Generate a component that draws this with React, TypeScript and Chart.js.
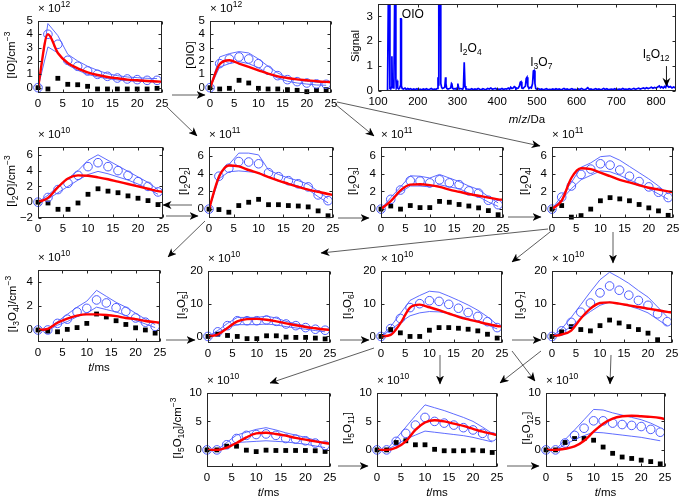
import React, { useEffect, useRef } from "react";
import { Chart, registerables } from "chart.js";
Chart.register(...registerables);

const FONT = '"Liberation Sans", Arial, Helvetica, sans-serif';
const FS = 11.5;
const BAND = "#4d5bff";
const RED = "#ff0000";
const SPEC = "#0000ff";

// ---------- data ----------
const tObs = [0, 2, 4, 6, 8, 10, 12, 14, 16, 18, 20, 22, 24];
const tMod = [0, 2, 4, 6, 8, 10, 12, 14, 16, 18, 20, 22, 24, 25];
const xTicks = [0, 5, 10, 15, 20, 25];

// IO (x1e12)
const io_obs = [0, 4.0, 3.25, 2.05, 1.6, 1.25, 1.0, 0.85, 0.72, 0.65, 0.6, 0.55, 0.55];
const io_hi = [0, 4.8, 3.9, 2.5, 2.0, 1.6, 1.3, 1.05, 0.9, 0.8, 0.75, 0.7, 0.68];
const io_lo = [0, 3.05, 2.6, 1.7, 1.3, 1.0, 0.8, 0.68, 0.58, 0.52, 0.48, 0.45, 0.43];
const io_mod = [0, 4.0, 2.6, 1.85, 1.45, 1.15, 0.95, 0.8, 0.7, 0.6, 0.55, 0.5, 0.46, 0.45];
const io_sq = [0, -0.1, 0.7, 0.25, 0.22, 0.1, -0.1, -0.1, -0.1, -0.1, -0.1, -0.1, -0.05];

// OIO (x1e12)
const oio_obs = [0, 1.8, 2.15, 2.3, 2.15, 1.8, 1.3, 0.9, 0.6, 0.45, 0.35, 0.28, 0.25];
const oio_hi = [0, 2.3, 2.55, 2.7, 2.6, 2.15, 1.6, 1.1, 0.75, 0.6, 0.48, 0.4, 0.36];
const oio_lo = [0, 1.55, 1.8, 1.95, 1.8, 1.5, 1.05, 0.72, 0.48, 0.35, 0.27, 0.2, 0.18];
const oio_mod = [0, 1.75, 2.05, 1.8, 1.55, 1.3, 1.05, 0.85, 0.72, 0.62, 0.55, 0.48, 0.43, 0.42];
const oio_sq = [0, -0.1, -0.05, 0.55, 0.35, -0.05, -0.1, -0.1, -0.15, -0.2, -0.3, -0.2, -0.15];

// I2O (x1e10)
const i2o_obs = [0, 0.6, 1.6, 2.4, 3.4, 4.5, 5.0, 4.5, 4.0, 3.4, 2.6, 2.0, 1.3];
const i2o_hi = [0, 0.9, 2.0, 3.0, 4.0, 5.3, 6.0, 5.3, 4.6, 3.9, 3.2, 2.5, 1.6];
const i2o_lo = [0, 0.4, 1.2, 2.0, 2.8, 3.5, 3.9, 3.6, 3.2, 2.8, 2.3, 1.7, 1.0];
const i2o_mod = [0, 0.55, 1.9, 3.0, 3.4, 3.35, 3.15, 2.9, 2.6, 2.3, 2.0, 1.7, 1.4, 1.3];
const i2o_sq = [0, -0.1, -0.9, -0.9, -0.1, 1.0, 1.7, 1.4, 1.2, 0.8, 0.5, 0.2, -0.3];

// I2O2 (x1e11)
const i2o2_obs = [0, 3.7, 4.6, 5.35, 5.3, 5.1, 4.1, 3.65, 3.2, 2.85, 2.5, 1.6, 0.95];
const i2o2_hi = [0, 3.9, 5.0, 6.3, 6.3, 6.1, 4.4, 3.9, 3.5, 3.2, 2.8, 2.0, 1.2];
const i2o2_lo = [0, 3.4, 4.2, 4.3, 4.2, 4.1, 3.6, 3.2, 2.9, 2.6, 2.2, 1.4, 0.7];
const i2o2_mod = [0, 3.6, 4.9, 4.8, 4.4, 4.05, 3.6, 3.2, 2.85, 2.5, 2.2, 1.95, 1.7, 1.6];
const i2o2_sq = [0, -0.05, -0.35, 0.4, 0.77, 1.1, 0.5, 0.5, 0.4, 0.35, 0.25, -0.2, -0.75];

// I2O3 (x1e11)
const i2o3_obs = [0, 1.1, 2.15, 3.2, 3.15, 2.95, 3.3, 2.95, 2.75, 2.05, 1.8, 1.0, 0.5];
const i2o3_hi = [0, 1.3, 2.5, 3.75, 3.7, 3.5, 3.9, 3.5, 3.1, 2.6, 2.2, 1.4, 0.7];
const i2o3_lo = [0, 0.9, 1.9, 2.6, 2.6, 2.5, 2.75, 2.5, 2.3, 1.8, 1.4, 0.8, 0.3];
const i2o3_mod = [0, 0.9, 2.1, 2.75, 2.8, 2.7, 2.5, 2.2, 1.95, 1.7, 1.5, 1.3, 1.1, 1.05];
const i2o3_sq = [0, 0.35, 0, 0.4, 0.17, 0.17, 0.87, 0.77, 0.52, 0.35, 0.14, -0.17, -0.63];

// I2O4 (x1e11)
const i2o4_obs = [0, 1.35, 2.6, 3.9, 4.5, 5.1, 4.95, 4.4, 3.7, 3.1, 2.5, 1.9, 1.3];
const i2o4_hi = [0, 1.5, 3.0, 4.7, 5.2, 5.9, 6.0, 5.5, 4.8, 4.1, 3.4, 2.6, 1.7];
const i2o4_lo = [0, 1.1, 2.3, 3.3, 3.8, 4.3, 4.2, 3.8, 3.3, 2.8, 2.3, 1.7, 1.1];
const i2o4_mod = [0, 0.95, 3.5, 4.6, 4.5, 4.1, 3.7, 3.3, 3.0, 2.7, 2.4, 2.2, 2.0, 1.9];
const i2o4_sq = [0, 0.4, -0.9, -0.73, 0, 0.94, 1.29, 1.15, 0.94, 0.52, 0.14, -0.2, -0.7];

// I3O4 (x1e10)
const i3o4_obs = [0, 0, 0.55, 0.9, 1.5, 1.8, 2.5, 2.25, 1.85, 1.55, 1.0, 0.65, 0.3];
const i3o4_hi = [0, 0.1, 0.7, 1.3, 1.9, 2.4, 3.3, 2.8, 2.3, 1.9, 1.4, 0.9, 0.45];
const i3o4_lo = [0, -0.05, 0.4, 0.7, 1.1, 1.4, 1.9, 1.7, 1.5, 1.2, 0.8, 0.5, 0.2];
const i3o4_mod = [0, 0.1, 0.6, 0.95, 1.2, 1.3, 1.3, 1.25, 1.15, 1.0, 0.9, 0.75, 0.65, 0.6];
const i3o4_sq = [0, -0.1, -0.15, 0.05, 0.2, 0.55, 1.33, 1.08, 0.77, 0.46, 0.18, 0, -0.26];

// I3O5 (x1e10)
const i3o5_obs = [0, 1.4, 3.3, 4.8, 4.8, 4.8, 5.0, 4.6, 3.8, 3.3, 2.7, 2.2, 1.9];
const i3o5_hi = [0, 1.8, 4.0, 5.8, 5.8, 5.8, 6.2, 5.6, 4.6, 3.9, 3.2, 2.6, 2.0];
const i3o5_lo = [0, 1.2, 2.7, 3.6, 3.6, 3.6, 3.8, 3.5, 3.0, 2.6, 2.2, 1.8, 1.4];
const i3o5_mod = [0, 0.6, 2.6, 4.6, 5.3, 5.35, 5.1, 4.6, 4.0, 3.4, 2.9, 2.5, 2.1, 2.0];
const i3o5_sq = [0, 0.67, 0.3, 0, -0.67, -0.67, 0.2, 0.2, -0.2, -0.3, -0.3, -0.5, -0.76];

// I3O6 (x1e10)
const i3o6_obs = [0, 2.4, 5.5, 8.8, 10.0, 10.9, 10.7, 9.8, 8.6, 7.3, 6.1, 4.5, 2.7];
const i3o6_hi = [0, 3.0, 7.0, 11.0, 12.5, 13.8, 13.5, 12.3, 11.0, 9.6, 8.0, 6.0, 3.6];
const i3o6_lo = [0, 2.0, 4.3, 6.3, 7.2, 7.6, 7.5, 7.0, 6.3, 5.4, 4.5, 3.5, 2.3];
const i3o6_mod = [0, 0.5, 4.0, 8.8, 9.7, 8.9, 8.0, 7.0, 6.0, 5.2, 4.5, 3.8, 3.2, 3.0];
const i3o6_sq = [0, 2.1, 1.1, 0, 0, 1.9, 2.7, 2.7, 2.5, 2.2, 1.7, 0.67, -0.5];

// I3O7 (x1e10)
const i3o7_obs = [0, 1.7, 4.3, 7.4, 10.2, 13.3, 15.4, 14.1, 12.6, 11.0, 9.5, 6.9, 4.5];
const i3o7_hi = [0, 2.3, 5.8, 9.7, 13.6, 17.3, 19.6, 18.0, 16.2, 14.0, 12.0, 9.0, 6.0];
const i3o7_lo = [0, 1.2, 3.0, 5.5, 7.6, 9.5, 10.5, 10.0, 9.3, 8.4, 7.2, 5.2, 3.3];
const i3o7_mod = [0, 0.6, 1.8, 5.5, 8.5, 10.2, 10.4, 10.0, 9.5, 9.0, 8.5, 8.0, 7.5, 7.3];
const i3o7_sq = [0, 1.4, 3.0, 2.1, 1.7, 3.3, 5.0, 4.1, 3.0, 2.1, 1.0, -1.0, null];

// I5O10 (x1e10)
const i5o10_obs = [0, 0, 0.9, 2.0, 2.55, 2.7, 2.8, 2.55, 2.0, 1.9, 1.6, 1.2, 0.8];
const i5o10_hi = [0, 0, 1.3, 2.6, 3.1, 3.6, 3.9, 3.5, 3.0, 2.6, 2.2, 1.7, 1.2];
const i5o10_lo = [0, 0, 0.6, 1.3, 1.4, 1.5, 1.6, 1.5, 1.4, 1.2, 1.0, 0.7, 0.4];
const i5o10_mod = [0, 0, 0.4, 1.2, 2.2, 2.9, 3.0, 2.8, 2.5, 2.1, 1.8, 1.5, 1.2, 1.1];
const i5o10_sq = [0, 0, 0.65, 0.65, -0.05, -0.3, -0.05, -0.1, -0.1, -0.1, -0.1, -0.15, -0.27];

// I5O11 (x1e10)
const i5o11_obs = [0, 0, 1.5, 2.9, 4.35, 5.7, 5.0, 4.7, 4.35, 3.9, 3.5, 2.9, 2.3];
const i5o11_hi = [0, 0, 2.0, 4.0, 6.0, 7.9, 7.4, 6.9, 6.3, 5.7, 5.0, 4.0, 2.9];
const i5o11_lo = [0, 0, 0.9, 1.9, 2.6, 3.3, 3.1, 2.9, 2.7, 2.5, 2.2, 1.8, 1.4];
const i5o11_mod = [0, 0, 0.4, 1.5, 3.5, 4.8, 5.2, 5.0, 4.6, 4.2, 3.7, 3.2, 2.8, 2.6];
const i5o11_sq = [0, 0, 1.3, 1.6, 0.9, 0.9, 0.1, -0.15, -0.15, -0.15, -0.05, -0.15, -0.45];

// I5O12 (x1e10)
const i5o12_obs = [0, 0, 1.2, 2.55, 3.8, 5.1, 5.1, 4.7, 4.45, 4.3, 4.1, 3.6, 3.1];
const i5o12_hi = [0, 0, 1.8, 3.5, 5.3, 7.1, 7.0, 6.5, 6.1, 5.7, 5.3, 4.7, 3.9];
const i5o12_lo = [0, 0, 0.9, 1.8, 2.5, 3.1, 3.0, 2.8, 2.6, 2.4, 2.2, 1.9, 1.6];
const i5o12_mod = [0, 0, 0.2, 0.6, 1.6, 3.2, 4.6, 5.5, 5.9, 6.0, 5.9, 5.8, 5.6, 5.4];
const i5o12_sq = [0, 0, 1.3, 2.0, 2.0, 1.7, 0.5, -0.6, -1.25, -1.5, -1.8, -2.05, -2.45];

// Mass spectrum
const specMz = [
  100, 110, 118, 122, 124, 126, 128, 130, 132, 134, 135, 136, 138, 140, 142, 144, 145, 146, 148, 149,
  150, 152, 154, 156, 157, 158, 159, 161, 164, 168, 171, 175, 178, 182, 186, 190, 194, 198, 202, 206,
  210, 214, 218, 222, 226, 230, 234, 238, 242, 246, 249, 251, 252, 253, 257, 258, 260, 262, 265, 268,
  270, 271, 273, 276, 280, 283, 285, 286, 288, 291, 294, 297, 300, 301, 302, 304, 307, 310, 313, 315,
  317, 318, 319, 321, 324, 328, 332, 336, 340, 344, 348, 352, 356, 360, 364, 368, 372, 376, 380, 384,
  388, 392, 396, 400, 404, 408, 412, 416, 420, 424, 428, 431, 434, 437, 440, 443, 445, 447, 450, 453,
  456, 458, 460, 462, 465, 468, 471, 473, 475, 477, 480, 483, 486, 489, 491, 493, 495, 497, 500, 504,
  508, 512, 516, 520, 524, 528, 532, 536, 540, 544, 548, 552, 556, 560, 564, 568, 572, 576, 580, 584,
  588, 592, 596, 600, 604, 608, 612, 616, 620, 624, 628, 632, 636, 640, 644, 648, 652, 656, 660, 664,
  668, 672, 676, 680, 684, 688, 692, 696, 700, 704, 708, 712, 716, 720, 724, 728, 732, 736, 740, 744,
  748, 752, 756, 760, 764, 768, 772, 776, 780, 784, 788, 792, 796, 800, 804, 808, 811, 814, 818, 821,
  824, 827, 829, 832, 836, 840, 844, 848, 850,
];
const specSignal = [
  0, 0, 0, 0, 0.02, 3.8, 3.8, 0.1, 0.08, 0.15, 1.4, 0.2, 0.12, 0.2, 3.8, 3.8, 0.5, 0.15, 0.3, 0.42,
  0.12, 0.08, 0.1, 0.2, 2.9, 2.9, 0.2, 0.1, 0.08, 0.12, 0.06, 0.1, 0.07, 0.09, 0.05, 0.08, 0.06, 0.09, 0.05, 0.07,
  0.05, 0.08, 0.06, 0.09, 0.05, 0.07, 0.1, 0.06, 0.08, 0.07, 0.1, 0.55, 0.25, 3.8, 3.8, 0.3, 0.15, 0.1, 0.12, 0.15,
  0.55, 0.3, 0.1, 0.08, 0.1, 0.12, 0.3, 0.28, 0.1, 0.08, 0.1, 0.07, 0.15, 0.3, 0.2, 0.08, 0.1, 0.09, 0.07, 0.15,
  1.15, 1.15, 0.2, 0.1, 0.08, 0.07, 0.06, 0.09, 0.05, 0.08, 0.06, 0.1, 0.07, 0.05, 0.09, 0.07, 0.06, 0.1, 0.08, 0.12,
  0.07, 0.09, 0.1, 0.06, 0.08, 0.07, 0.1, 0.06, 0.09, 0.08, 0.12, 0.07, 0.15, 0.1, 0.12, 0.18, 0.16, 0.08, 0.1, 0.12,
  0.2, 0.35, 0.37, 0.12, 0.1, 0.15, 0.2, 0.5, 0.55, 0.2, 0.1, 0.15, 0.12, 0.3, 0.8, 0.82, 0.3, 0.1, 0.07, 0.09,
  0.06, 0.08, 0.05, 0.07, 0.09, 0.05, 0.07, 0.06, 0.08, 0.05, 0.09, 0.06, 0.08, 0.05, 0.07, 0.1, 0.06, 0.08, 0.05, 0.07,
  0.09, 0.06, 0.07, 0.05, 0.08, 0.06, 0.1, 0.07, 0.05, 0.08, 0.13, 0.06, 0.08, 0.05, 0.07, 0.09, 0.06, 0.08, 0.05, 0.07,
  0.1, 0.06, 0.09, 0.05, 0.07, 0.08, 0.06, 0.09, 0.05, 0.07, 0.08, 0.06, 0.1, 0.07, 0.08, 0.06, 0.09, 0.07, 0.08, 0.1,
  0.07, 0.09, 0.11, 0.08, 0.1, 0.12, 0.09, 0.13, 0.1, 0.12, 0.15, 0.11, 0.14, 0.12, 0.16, 0.2, 0.13, 0.17, 0.12, 0.18,
  0.14, 0.28, 0.2, 0.15, 0.18, 0.12, 0.16, 0.13, 0.1,
];
const specXTicks = [100, 200, 300, 400, 500, 600, 700, 800];
const specYTicks = [0, 1, 2, 3];

// ---------- layout helpers ----------
const YW = 32, PT = 8, PR = 12, XH = 22;
const minus = (v: number) => String(v).replace("-", "\u2212");

const S = ({ c }: any) => (
  <span style={{ fontSize: 8.5, position: "relative", top: 3 }}>{c}</span>
);
const P = ({ c }: any) => (
  <span style={{ fontSize: 8.5, position: "relative", top: -5 }}>{c}</span>
);
const CM = () => (<>/cm<P c={"\u22123"} /></>);

const panels: any[] = [
  { box: [38, 17, 162, 93], y: [-0.4, 5], yt: [0, 1, 2, 3, 4, 5], exp: "12", tx: 12,
    title: <>[IO]<CM /></>, d: [io_obs, io_hi, io_lo, io_mod, io_sq] },
  { box: [210, 17, 331, 93], y: [-0.4, 5], yt: [0, 1, 2, 3, 4, 5], exp: "12", tx: 190,
    title: <>[OIO]</>, d: [oio_obs, oio_hi, oio_lo, oio_mod, oio_sq] },
  { box: [38, 143, 163, 218], y: [-2, 7], yt: [-2, 0, 2, 4, 6], exp: "10", tx: 12,
    title: <>[I<S c="2" />O]<CM /></>, d: [i2o_obs, i2o_hi, i2o_lo, i2o_mod, i2o_sq] },
  { box: [209, 143, 333, 218], y: [-1, 7], yt: [0, 2, 4, 6], exp: "11", tx: 184,
    title: <>[I<S c="2" />O<S c="2" />]</>, d: [i2o2_obs, i2o2_hi, i2o2_lo, i2o2_mod, i2o2_sq] },
  { box: [381, 143, 503, 218], y: [-1, 7], yt: [0, 2, 4, 6], exp: "11", tx: 353,
    title: <>[I<S c="2" />O<S c="3" />]</>, d: [i2o3_obs, i2o3_hi, i2o3_lo, i2o3_mod, i2o3_sq] },
  { box: [552, 143, 673, 218], y: [-1, 7], yt: [0, 2, 4, 6], exp: "11", tx: 525,
    title: <>[I<S c="2" />O<S c="4" />]</>, d: [i2o4_obs, i2o4_hi, i2o4_lo, i2o4_mod, i2o4_sq] },
  { box: [38, 266, 160, 342], y: [-1, 5], yt: [0, 2, 4], exp: "10", tx: 13, xl: true,
    title: <>[I<S c="3" />O<S c="4" />]<CM /></>, d: [i3o4_obs, i3o4_hi, i3o4_lo, i3o4_mod, i3o4_sq] },
  { box: [208, 267, 330, 343], y: [-2, 20], yt: [0, 10, 20], exp: "10", tx: 182,
    title: <>[I<S c="3" />O<S c="5" />]</>, d: [i3o5_obs, i3o5_hi, i3o5_lo, i3o5_mod, i3o5_sq] },
  { box: [381, 267, 502, 343], y: [-2, 20], yt: [0, 10, 20], exp: "10", tx: 348,
    title: <>[I<S c="3" />O<S c="6" />]</>, d: [i3o6_obs, i3o6_hi, i3o6_lo, i3o6_mod, i3o6_sq] },
  { box: [552, 267, 672, 343], y: [-2, 20], yt: [0, 10, 20], exp: "10", tx: 520,
    title: <>[I<S c="3" />O<S c="7" />]</>, d: [i3o7_obs, i3o7_hi, i3o7_lo, i3o7_mod, i3o7_sq] },
  { box: [207, 389, 330, 467], y: [-3, 10], yt: [0, 5, 10], exp: "10", tx: 178, xl: true,
    title: <>[I<S c="5" />O<S c="10" />]<CM /></>, d: [i5o10_obs, i5o10_hi, i5o10_lo, i5o10_mod, i5o10_sq] },
  { box: [377, 389, 497, 467], y: [-3, 10], yt: [0, 5, 10], exp: "10", tx: 348, xl: true,
    title: <>[I<S c="5" />O<S c="11" />]</>, d: [i5o11_obs, i5o11_hi, i5o11_lo, i5o11_mod, i5o11_sq] },
  { box: [546, 389, 665, 467], y: [-3, 10], yt: [0, 5, 10], exp: "10", tx: 527, xl: true,
    title: <>[I<S c="5" />O<S c="12" />]</>, d: [i5o12_obs, i5o12_hi, i5o12_lo, i5o12_mod, i5o12_sq] },
];

const SPEC_BOX = [378, 0, 676, 91];

const arrows = [
  [172, 95, 205, 95], [167, 107, 197, 136], [335, 104, 374, 136], [337, 102, 540, 146],
  [192, 205, 163, 205], [166, 216, 198, 216], [338, 218, 369, 218], [508, 217, 541, 217],
  [205, 221, 168, 257], [548, 229, 321, 253], [550, 232, 512, 262], [613, 232, 613, 263],
  [166, 340, 195, 340], [340, 340, 369, 340], [512, 340, 541, 340], [374, 348, 270, 383],
  [440, 355, 440, 384], [611, 355, 610, 384], [541, 351, 500, 383], [512, 351, 535, 381],
  [338, 466, 368, 466], [507, 466, 539, 466],
];

// ---------- chart plumbing ----------
const boxPlugin = {
  id: "matBox",
  afterDraw(chart: any) {
    const { ctx, chartArea: a, scales } = chart;
    ctx.save();
    ctx.strokeStyle = "#262626";
    ctx.lineWidth = 1;
    const L = Math.round(a.left) + 0.5, T = Math.round(a.top) + 0.5;
    const R = Math.round(a.right) - 0.5, B = Math.round(a.bottom) - 0.5;
    ctx.strokeRect(L, T, R - L, B - T);
    ctx.beginPath();
    const tl = 3;
    scales.x.ticks.forEach((t: any) => {
      const x = Math.round(scales.x.getPixelForValue(t.value)) + 0.5;
      ctx.moveTo(x, B); ctx.lineTo(x, B - tl);
      ctx.moveTo(x, T); ctx.lineTo(x, T + tl);
    });
    scales.y.ticks.forEach((t: any) => {
      const y = Math.round(scales.y.getPixelForValue(t.value)) + 0.5;
      ctx.moveTo(L, y); ctx.lineTo(L + tl, y);
      ctx.moveTo(R, y); ctx.lineTo(R - tl, y);
    });
    ctx.stroke();
    ctx.restore();
  },
};

function axisCfg(min: number, max: number, ticks: number[], isX: boolean) {
  return {
    type: "linear",
    min, max,
    grid: { display: false, drawTicks: false },
    border: { display: false },
    ticks: {
      font: { family: FONT, size: FS }, color: "#000", padding: isX ? 4 : 5,
      maxRotation: 0, autoSkip: false, callback: (v: number) => minus(v),
    },
    afterBuildTicks: (s: any) => { s.ticks = ticks.map((v) => ({ value: v })); },
    afterFit: (s: any) => { if (isX) s.height = XH; else s.width = YW; },
  };
}

const pts = (xs: number[], ys: (number | null)[]) =>
  ys.map((y, i) => (y === null ? null : { x: xs[i], y })).filter(Boolean);

const MARK_CLIP = { left: 8, right: 8, top: 8, bottom: 8 };

function Panel({ p }: any) {
  const ref = useRef<HTMLCanvasElement>(null);
  const [l, t, r, b] = p.box;
  const W = YW + (r - l) + PR, H = PT + (b - t) + XH;
  useEffect(() => {
    const [obs, hi, lo, mod, sq] = p.d;
    const chart = new Chart(ref.current as any, {
      type: "line",
      data: {
        datasets: [
          { data: pts(tMod, mod), borderColor: RED, borderWidth: 2.4, pointRadius: 0,
            cubicInterpolationMode: "monotone" },
          { data: pts(tObs, obs), showLine: false, pointStyle: "circle", pointRadius: 4.3,
            pointBorderColor: BAND, pointBorderWidth: 1, pointBackgroundColor: "rgba(0,0,0,0)",
            clip: MARK_CLIP },
          { data: pts(tObs, sq), showLine: false, pointStyle: "rect", pointRadius: 3.4,
            pointBorderColor: "#000", pointBorderWidth: 0, pointBackgroundColor: "#000",
            clip: MARK_CLIP },
          { data: pts(tObs, hi), borderColor: BAND, borderWidth: 0.9, pointRadius: 0, tension: 0 },
          { data: pts(tObs, lo), borderColor: BAND, borderWidth: 0.9, pointRadius: 0, tension: 0 },
        ],
      } as any,
      options: {
        responsive: false, animation: false, devicePixelRatio: 1, events: [],
        layout: { padding: { top: PT, right: PR, left: 0, bottom: 0 } },
        plugins: { legend: { display: false }, tooltip: { enabled: false } },
        scales: {
          x: axisCfg(0, 25, xTicks, true),
          y: axisCfg(p.y[0], p.y[1], p.yt, false),
        },
      } as any,
      plugins: [boxPlugin],
    });
    return () => chart.destroy();
  }, []);
  return (
    <canvas ref={ref} width={W} height={H}
      style={{ position: "absolute", left: l - YW, top: t - PT, width: W, height: H }} />
  );
}

const specLabels: any[] = [
  { mz: 160, s: 3.12, parts: [["OIO", 0]], align: "left" },
  { mz: 333, s: 1.73, parts: [["I", 0], ["2", 1], ["O", 0], ["4", 1]], align: "center" },
  { mz: 511, s: 1.19, parts: [["I", 0], ["3", 1], ["O", 0], ["7", 1]], align: "center" },
  { mz: 800, s: 1.51, parts: [["I", 0], ["5", 1], ["O", 0], ["12", 1]], align: "center" },
];
const i5o12Marker = { mz: 826, from: 1.0, to: 0.17 };

const specLabelPlugin = {
  id: "specLabels",
  afterDraw(chart: any) {
    const { ctx, scales } = chart;
    const size = 12, small = 8.5;
    ctx.save();
    ctx.fillStyle = "#000";
    ctx.textAlign = "left";
    ctx.textBaseline = "alphabetic";
    specLabels.forEach((lb) => {
      const x = scales.x.getPixelForValue(lb.mz);
      const y = scales.y.getPixelForValue(lb.s) + size * 0.35;
      const widths = lb.parts.map(([s, m]: any) => {
        ctx.font = `${m ? small : size}px ${FONT}`;
        return ctx.measureText(s).width;
      });
      const total = widths.reduce((a: number, b: number) => a + b, 0);
      let cx = lb.align === "center" ? x - total / 2 : x;
      lb.parts.forEach(([s, m]: any, i: number) => {
        ctx.font = `${m ? small : size}px ${FONT}`;
        ctx.fillText(s, cx, y + (m ? 3 : 0));
        cx += widths[i];
      });
    });
    const ax = scales.x.getPixelForValue(i5o12Marker.mz);
    const y1 = scales.y.getPixelForValue(i5o12Marker.from);
    const y2 = scales.y.getPixelForValue(i5o12Marker.to);
    ctx.strokeStyle = "#000";
    ctx.lineWidth = 0.9;
    ctx.beginPath(); ctx.moveTo(ax, y1); ctx.lineTo(ax, y2 - 3); ctx.stroke();
    ctx.beginPath(); ctx.moveTo(ax, y2); ctx.lineTo(ax - 4, y2 - 9); ctx.lineTo(ax, y2 - 6);
    ctx.lineTo(ax + 4, y2 - 9); ctx.closePath(); ctx.fill();
    ctx.restore();
  },
};

function Spectrum() {
  const ref = useRef<HTMLCanvasElement>(null);
  const [l, t, r, b] = SPEC_BOX;
  const W = YW + (r - l) + PR - 8, H = PT + (b - t) + XH;
  useEffect(() => {
    const chart = new Chart(ref.current as any, {
      type: "line",
      data: {
        datasets: [
          { data: pts(specMz, specSignal), borderColor: SPEC, borderWidth: 1.7, pointRadius: 0, tension: 0 },
        ],
      } as any,
      options: {
        responsive: false, animation: false, devicePixelRatio: 1, events: [],
        layout: { padding: { top: PT, right: PR - 8, left: 0, bottom: 0 } },
        plugins: { legend: { display: false }, tooltip: { enabled: false } },
        scales: {
          x: axisCfg(100, 850, specXTicks, true),
          y: axisCfg(0, 3.5, specYTicks, false),
        },
      } as any,
      plugins: [boxPlugin, specLabelPlugin],
    });
    return () => chart.destroy();
  }, []);
  return (
    <canvas ref={ref} width={W} height={H}
      style={{ position: "absolute", left: l - YW, top: t - PT, width: W, height: H }} />
  );
}

const txt: any = { position: "absolute", fontSize: FS, lineHeight: "13px", whiteSpace: "nowrap" };

function YTitle({ x, y, children }: any) {
  return (
    <div style={{ ...txt, left: x, top: y, transform: "translate(-50%,-50%) rotate(-90deg)" }}>
      {children}
    </div>
  );
}
function CText({ x, y, children }: any) {
  return <div style={{ ...txt, left: x, top: y, transform: "translate(-50%,-50%)" }}>{children}</div>;
}

export default function App() {
  return (
    <div style={{ position: "absolute", left: 0, top: 0, width: 681, height: 497, background: "#fff",
      overflow: "hidden", fontFamily: FONT, color: "#000" }}>
      {panels.map((p, i) => <Panel key={i} p={p} />)}
      <Spectrum />
      {panels.map((p, i) => {
        const [l, t, r, b] = p.box;
        return (
          <React.Fragment key={"t" + i}>
            <div style={{ ...txt, left: l, top: t - 15 }}>{"\u00d7 10"}<P c={p.exp} /></div>
            <YTitle x={p.tx} y={(t + b) / 2}>{p.title}</YTitle>
            {p.xl ? <CText x={(l + r) / 2} y={b + 25}><i>t</i>/ms</CText> : null}
          </React.Fragment>
        );
      })}
      <YTitle x={355} y={(SPEC_BOX[1] + SPEC_BOX[3]) / 2}>Signal</YTitle>
      <CText x={(SPEC_BOX[0] + SPEC_BOX[2]) / 2} y={119}><i>m</i>/<i>z</i>/Da</CText>
      <svg width={681} height={497} style={{ position: "absolute", left: 0, top: 0, pointerEvents: "none" }}>
        <defs>
          <marker id="ah" markerWidth="9" markerHeight="8" refX="8.5" refY="4" orient="auto"
            markerUnits="userSpaceOnUse">
            <path d="M0,0 L9,4 L0,8 L2.5,4 Z" fill="#000" />
          </marker>
        </defs>
        {arrows.map(([x1, y1, x2, y2], i) => (
          <line key={i} x1={x1} y1={y1} x2={x2} y2={y2} stroke="#333" strokeWidth={0.8} markerEnd="url(#ah)" />
        ))}
      </svg>
    </div>
  );
}
